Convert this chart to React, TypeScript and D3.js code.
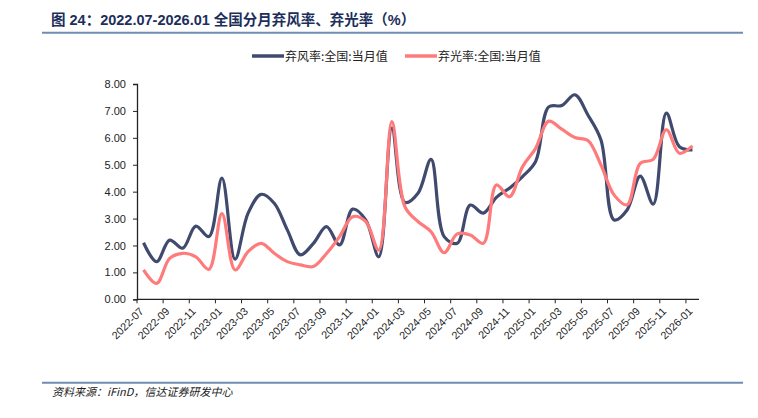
import React, { useEffect, useRef } from 'react'
import * as d3 from 'd3'

// 2022-07 .. 2026-01, monthly
const months: string[] = []
for (let y = 2022, m = 7; y < 2026 || (y === 2026 && m <= 1); m++) {
  if (m > 12) { m = 1; y++ }
  if (y === 2026 && m > 1) break
  months.push(`${y}-${String(m).padStart(2, '0')}`)
}

const windRate = [
  2.10, 1.40, 2.20, 1.90, 2.72, 2.33, 4.50, 1.49, 3.20, 3.90,
  3.57, 2.58, 1.65, 2.08, 2.70, 2.02, 3.35, 2.95, 1.58, 6.36,
  3.60, 3.94, 5.20, 2.33, 2.08, 3.50, 3.20, 3.79, 4.13, 4.56,
  5.12, 7.15, 7.20, 7.60, 6.85, 5.92, 2.95, 3.32, 4.58, 3.54,
  6.92, 5.67, 5.55,
]
const solarRate = [
  1.09, 0.59, 1.52, 1.71, 1.58, 1.11, 3.18, 1.09, 1.77, 2.08,
  1.71, 1.40, 1.28, 1.22, 1.70, 2.33, 3.07, 2.89, 1.83, 6.60,
  3.44, 2.89, 2.51, 1.73, 2.43, 2.39, 2.08, 4.25, 3.81, 4.93,
  5.61, 6.62, 6.32, 6.01, 5.90, 4.99, 3.88, 3.51, 5.05, 5.20,
  6.30, 5.43, 5.70,
]
const yTicks = [0, 1, 2, 3, 4, 5, 6, 7, 8]

const seriesNames = ['弃风率:全国:当月值', '弃光率:全国:当月值']
const colors = ['#3f4a6e', '#ff7b7b']

export default function App() {
  const ref = useRef<SVGSVGElement>(null)

  useEffect(() => {
    const svg = d3.select(ref.current)
    svg.selectAll('*').remove()

    const x = d3.scaleBand().domain(months).range([137, 699])
    const y = d3.scaleLinear().domain([0, 8]).range([299.3, 84])
    const cx = (d: string) => (x(d) as number) + x.bandwidth() / 2

    // title
    svg.append('text')
      .attr('x', 51).attr('y', 25)
      .attr('font-family', 'Liberation Sans, Noto Sans CJK SC, sans-serif')
      .attr('font-size', 14.5).attr('font-weight', 'bold')
      .attr('fill', '#1c2f5c')
      .text('图 24：2022.07-2026.01 全国分月弃风率、弃光率（%）')
    svg.append('line')
      .attr('x1', 42).attr('x2', 743).attr('y1', 32.7).attr('y2', 32.7)
      .attr('stroke', '#6f8db3').attr('stroke-width', 2)

    // legend
    const leg = svg.append('g').attr('font-family', 'Noto Sans CJK SC, sans-serif').attr('font-size', 12)
    const legX = [252, 405]
    seriesNames.forEach((n, i) => {
      leg.append('line')
        .attr('x1', legX[i]).attr('x2', legX[i] + 32).attr('y1', 56).attr('y2', 56)
        .attr('stroke', colors[i]).attr('stroke-width', 3.5)
      leg.append('text')
        .attr('x', legX[i] + 33).attr('y', 60.5)
        .attr('fill', '#222').text(n)
    })

    // y axis
    const yAxis = d3.axisLeft(y).tickValues(yTicks).tickFormat(d3.format('.2f')).tickSize(4).tickPadding(7)
    const gy = svg.append('g').attr('transform', 'translate(137,0)').call(yAxis)
    gy.select('.domain').attr('stroke', '#222').attr('stroke-width', 1.3)
    gy.selectAll('.tick line').attr('stroke', '#222')
    gy.selectAll('text').attr('font-family', 'Liberation Sans, Arial, sans-serif').attr('font-size', 11).attr('fill', '#222')

    // x axis
    const gx = svg.append('g').attr('transform', `translate(0,${y(0)})`)
    gx.append('line').attr('x1', 137).attr('x2', 699).attr('stroke', '#222').attr('stroke-width', 1.3)
    months.forEach((m, i) => {
      if (i % 2 !== 0) return
      const tx = x(m) as number
      gx.append('line').attr('x1', tx).attr('x2', tx).attr('y1', 0).attr('y2', 4).attr('stroke', '#222')
      gx.append('text')
        .attr('transform', `translate(${cx(m) - 2},${10}) rotate(-45)`)
        .attr('text-anchor', 'end').attr('dy', '0.35em')
        .attr('font-family', 'Liberation Sans, Arial, sans-serif').attr('font-size', 10.8)
        .attr('fill', '#222').text(m)
    })

    // lines
    const line = d3.line<number>()
      .x((_, i) => cx(months[i]))
      .y(d => y(d))
      .curve(d3.curveCatmullRom.alpha(0.5))
    ;[windRate, solarRate].forEach((s, i) => {
      svg.append('path').datum(s)
        .attr('d', line)
        .attr('fill', 'none')
        .attr('stroke', colors[i])
        .attr('stroke-width', 3.2)
        .attr('stroke-linejoin', 'round')
    })

    // footer
    svg.append('line')
      .attr('x1', 42).attr('x2', 743).attr('y1', 382.7).attr('y2', 382.7)
      .attr('stroke', '#6f8db3').attr('stroke-width', 2)
    svg.append('text')
      .attr('x', 52).attr('y', 396)
      .attr('font-family', 'Noto Sans CJK SC, sans-serif')
      .attr('font-size', 11).attr('font-style', 'italic')
      .attr('fill', '#222')
      .text('资料来源：iFinD，信达证券研发中心')
  }, [])

  return (
    <svg ref={ref} width={758} height={418} style={{ position: 'absolute', left: 0, top: 0, background: '#fff' }} />
  )
}
